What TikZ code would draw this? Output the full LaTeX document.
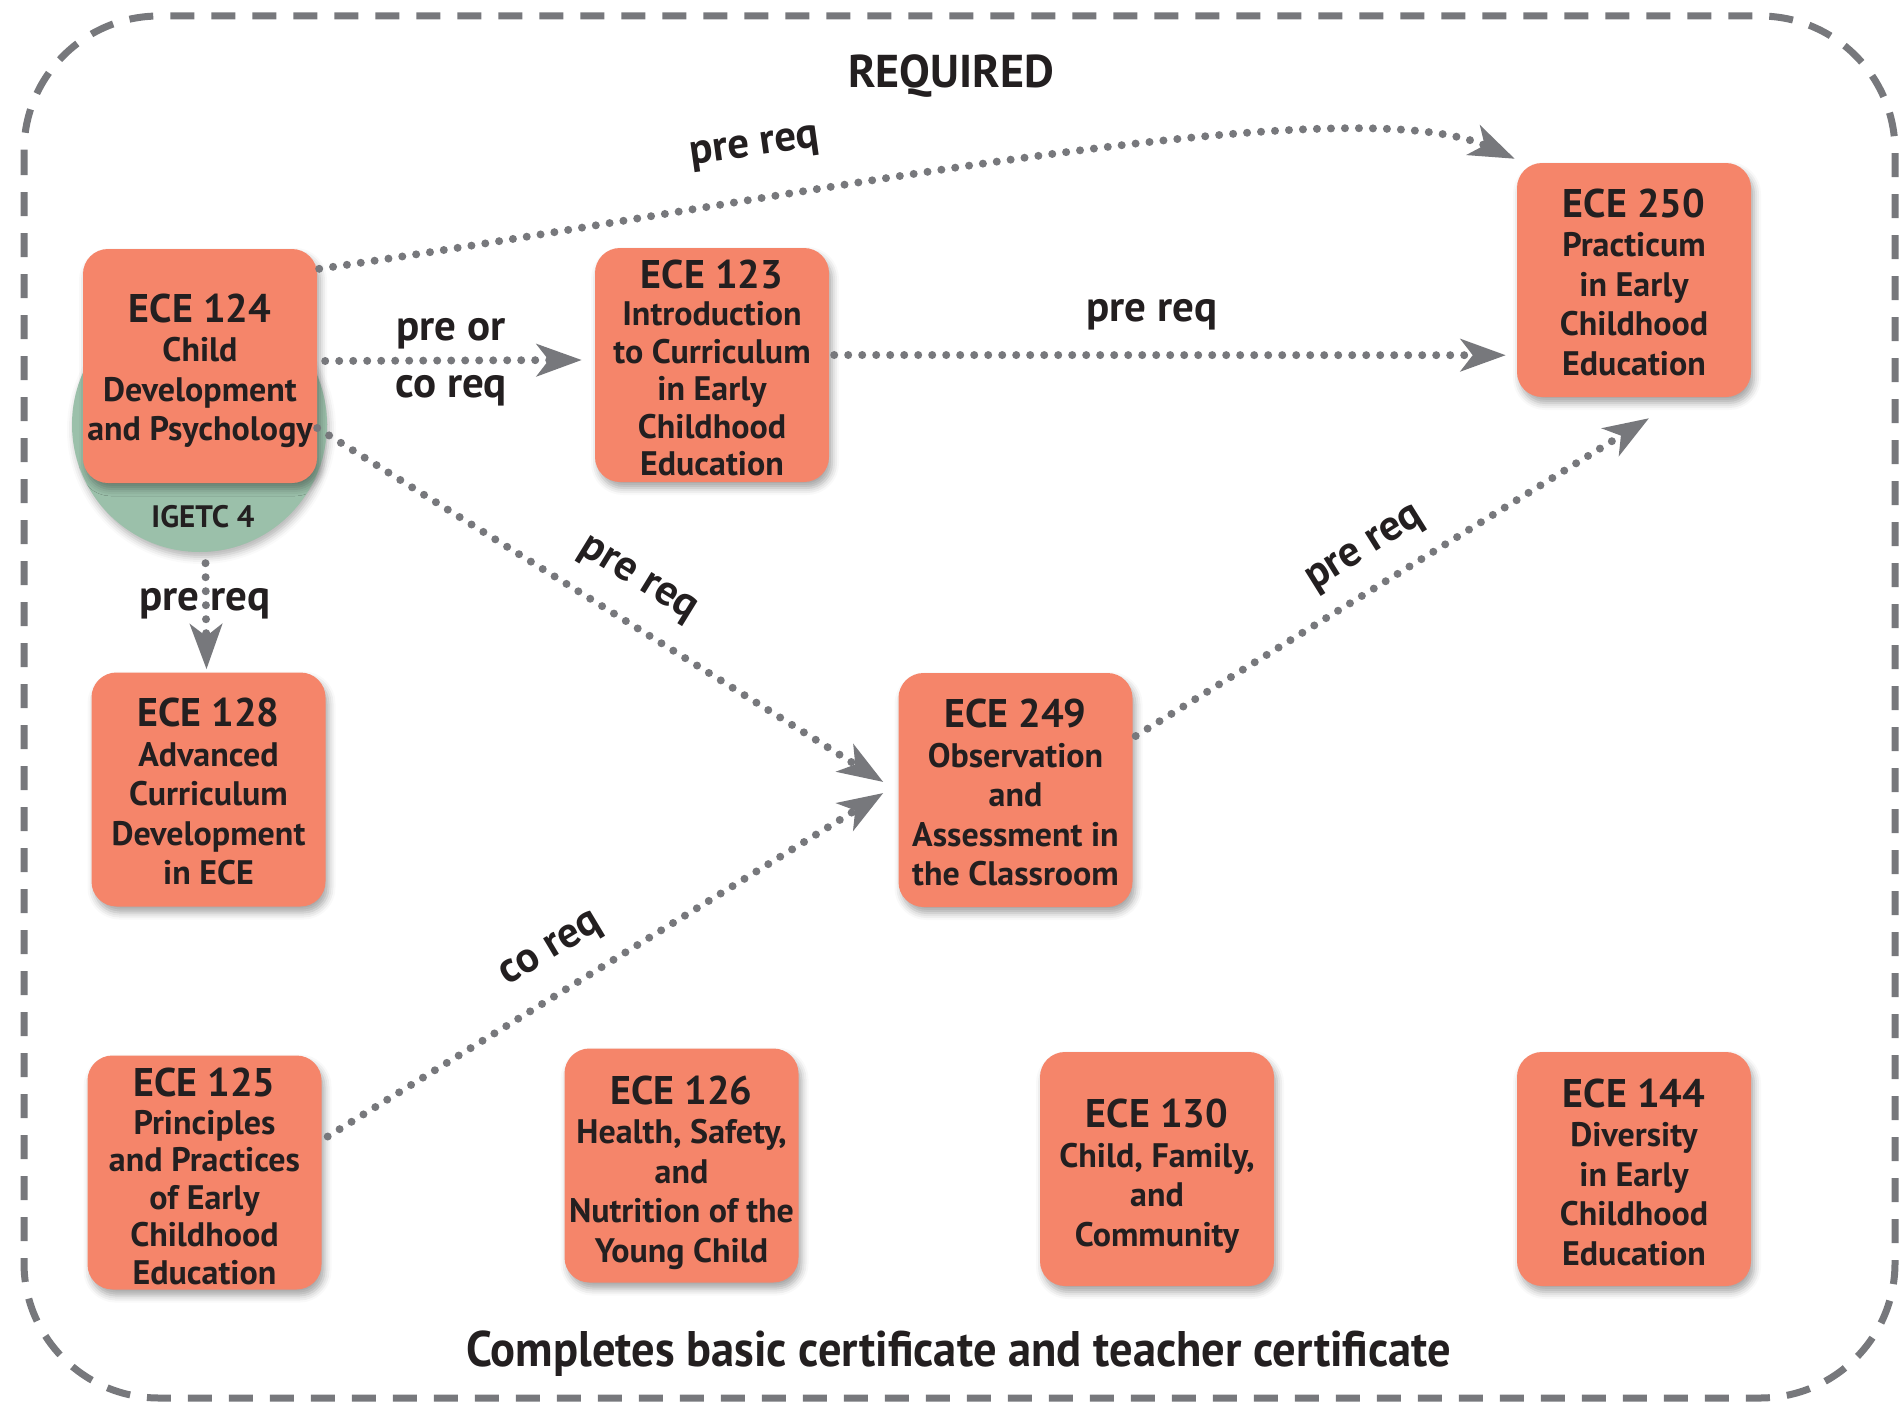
\documentclass[tikz,border=0pt]{standalone}
\usepackage{fontspec}
\setmainfont{PT Sans}
\newfontfamily\bodyf{PT Sans}
\newfontfamily\condf{PT Sans}[FakeStretch=0.93]
\usetikzlibrary{arrows.meta,calc,shadows.blur}
\definecolor{boxc}{RGB}{245,133,106}
\definecolor{greenc}{RGB}{155,192,170}
\definecolor{grayc}{RGB}{119,120,124}
\definecolor{textc}{RGB}{35,31,32}
\newcommand\ttl[1]{{\fontsize{40}{39}\selectfont #1}}
\tikzset{
  course/.style={minimum width=234pt, minimum height=234pt, rounded corners=25pt,
    fill=boxc, inner sep=0pt,
    blur shadow={shadow xshift=3pt, shadow yshift=-6pt, shadow blur radius=7pt, shadow opacity=35}},
  ctext/.style={inner sep=0pt, text=textc, align=center,
    font=\bodyf\bfseries\fontsize{34}{39.5}\selectfont},
  ctextfive/.style={ctext, font=\bodyf\bfseries\fontsize{34}{37.5}\selectfont},
  link/.style={draw=grayc, line width=8pt, line cap=round, dash pattern=on 0pt off 14pt,
    -{Stealth[length=45pt, width=32pt, inset=12pt, fill=grayc]}},
  lbl/.style={text=textc, font=\bfseries\fontsize{43}{43}\selectfont, inner sep=0pt},
}
\begin{document}
\begin{tikzpicture}[x=1pt,y=-1pt]
\useasboundingbox (0,0) rectangle (1901,1413);
\draw[grayc, line width=7pt, dash pattern=on 24pt off 17pt, rounded corners=135pt] (24,16) rectangle (1895,1398);
\node[lbl, anchor=base, font=\bfseries\fontsize{46}{46}\selectfont] (req) at (951,88) {REQUIRED};
\node[lbl, anchor=base, font=\condf\bfseries\fontsize{50}{50}\selectfont] (compl) at (959,1366) {Completes basic certificate and teacher certificate};

\node[circle, fill=greenc, minimum size=255pt, inner sep=0pt,
  blur shadow={shadow xshift=2pt, shadow yshift=-5pt, shadow blur radius=7pt, shadow opacity=30}] (igetc) at (199.5,424.5) {};
\node[text=textc, font=\bodyf\bfseries\fontsize{31}{31}\selectfont, anchor=base] (igetcl) at (203,527) {IGETC 4};

\node[course] (e124) at (200,366) {};
\node[ctext] (e124t) at ($(e124.center)+(0,5)$) {\ttl{ECE 124}\\Child\\Development\\and Psychology};
\node[course] (e123) at (712,365) {};
\node[ctextfive] (e123t) at ($(e123.center)+(0,3)$) {\ttl{ECE 123}\\Introduction\\to Curriculum\\in Early\\Childhood\\Education};
\node[course] (e250) at (1634,280) {};
\node[ctext] (e250t) at ($(e250.center)+(0,2)$) {\ttl{ECE 250}\\Practicum\\in Early\\Childhood\\Education};
\node[course] (e249) at (1015.5,790) {};
\node[ctext] (e249t) at ($(e249.center)+(0,2.5)$) {\ttl{ECE 249}\\Observation\\and\\Assessment in\\the Classroom};
\node[course] (e128) at (208.5,789.5) {};
\node[ctext] (e128t) at ($(e128.center)+(0,2)$) {\ttl{ECE 128}\\Advanced\\Curriculum\\Development\\in ECE};
\node[course] (e125) at (204.5,1172.5) {};
\node[ctextfive] (e125t) at ($(e125.center)+(0,4)$) {\ttl{ECE 125}\\Principles\\and Practices\\of Early\\Childhood\\Education};
\node[course] (e126) at (681.5,1165.5) {};
\node[ctext] (e126t) at ($(e126.center)+(0,7)$) {\ttl{ECE 126}\\Health, Safety,\\and\\Nutrition of the\\Young Child};
\node[course] (e130) at (1157,1169) {};
\node[ctext] (e130t) at ($(e130.center)+(0,7)$) {\ttl{ECE 130}\\Child, Family,\\and\\Community};
\node[course] (e144) at (1634,1169) {};
\node[ctext] (e144t) at ($(e144.center)+(0,3)$) {\ttl{ECE 144}\\Diversity\\in Early\\Childhood\\Education};

\coordinate (s1) at ($(e124.north east)+(2,20)$);
\coordinate (t1) at ($(e250.north west)+(-2,-4)$);
\draw[link] (s1) .. controls (720,212) and (1340,80) .. (t1);
\draw[link] ($(e124.east)+(8,-5)$) -- ($(e123.west)+(-13,-5)$);
\draw[link] ($(e123.east)+(5,-10)$) -- ($(e250.south west)+(-11,-42)$);
\draw[link] ($(e124.east)+(0,62)$) -- ($(e249.west)+(-15,-8)$);
\draw[link] ($(e125.east)+(6,-36)$) -- ($(e249.west)+(-15,3)$);
\draw[link] ($(e249.east)+(3,-54)$) -- ($(e250.south)+(15,21)$);
\draw[link] ($(igetc.south)+(6,11)$) -- ($(e128.north)+(-2,-3)$);

\node[lbl, rotate=8] (l1) at (755,149) {pre req};
\node[lbl, anchor=base] (l2a) at (451,340) {pre or};
\node[lbl, anchor=base] (l2b) at (451,397) {co req};
\node[lbl, anchor=base] (l3) at (1152,321) {pre req};
\node[lbl, rotate=-31.6] (l4) at (637,581) {pre req};
\node[lbl, rotate=32] (l5) at (1366,550) {pre req};
\node[lbl, rotate=31] (l6) at (552,951) {co req};
\node[lbl, anchor=base] (l7) at (205,610) {pre req};
\end{tikzpicture}
\end{document}
